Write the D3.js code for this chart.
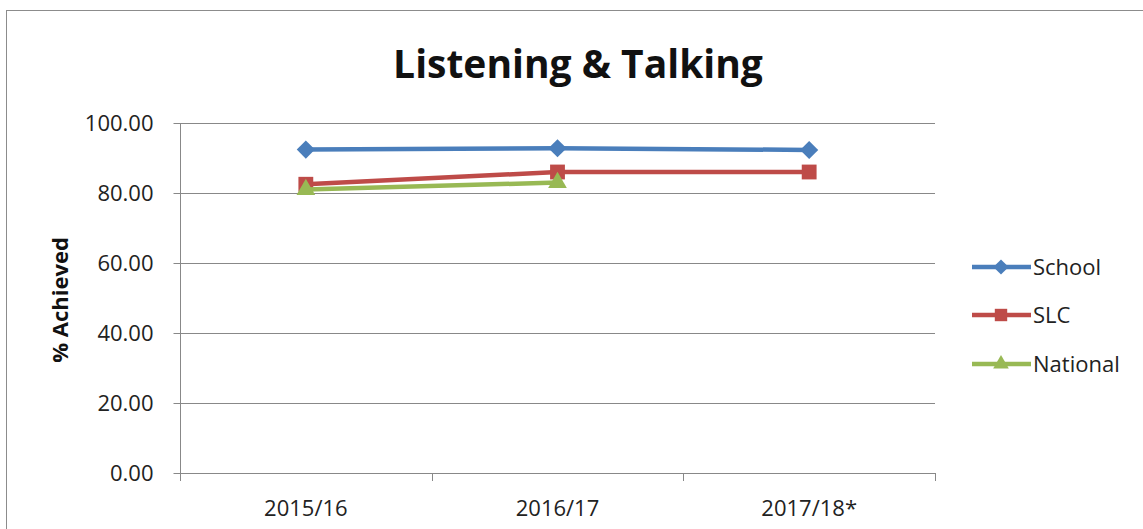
<!DOCTYPE html>
<html><head><meta charset="utf-8">
<script src="https://cdn.jsdelivr.net/npm/d3@7"></script>
<style>html,body{margin:0;padding:0;background:#fff;}svg{display:block;}</style>
</head><body>
<svg id="chart" width="1143" height="529"></svg>
<script>
const categories = ["2015/16", "2016/17", "2017/18*"];
const schoolValues = [92.4, 92.8, 92.3];
const slcValues = [82.5, 86.0, 86.0];
const nationalValues = [81.0, 83.0, null];
const yTicks = [0, 20, 40, 60, 80, 100];
const seriesNames = ["School", "SLC", "National"];

const series = [
  {name: seriesNames[0], values: schoolValues, color: "#4A7EBB", marker: d3.symbolDiamond2, size: 210},
  {name: seriesNames[1], values: slcValues, color: "#BE4B48", marker: d3.symbolSquare2, size: 280},
  {name: seriesNames[2], values: nationalValues, color: "#98B954", marker: d3.symbolTriangle2, size: 250}
];

const svg = d3.select("#chart");
const font = "'Open Sans', 'Liberation Sans', sans-serif";

// outer border
svg.append("rect").attr("x", 6.5).attr("y", 10.5).attr("width", 1150).attr("height", 540)
  .attr("fill", "none").attr("stroke", "#8c8c8c").attr("stroke-width", 1);

const x = d3.scaleBand().domain(categories).range([180, 935]);
const y = d3.scaleLinear().domain([0, 100]).range([473, 123]);

// gridlines
svg.append("g").selectAll("line").data(yTicks).join("line")
  .attr("x1", 180).attr("x2", 935)
  .attr("y1", d => Math.round(y(d)) + 0.5).attr("y2", d => Math.round(y(d)) + 0.5)
  .attr("stroke", "#888").attr("stroke-width", 1);

// y axis
const yAxis = svg.append("g").attr("transform", "translate(180.5,0)")
  .call(d3.axisLeft(y).tickValues(yTicks).tickFormat(d3.format(".2f")).tickSize(7).tickSizeOuter(0));
yAxis.select(".domain").attr("stroke", "#888").attr("d", "M0,123V480");
yAxis.selectAll(".tick line").attr("stroke", "#888");
yAxis.selectAll(".tick text").attr("font-family", font).attr("font-size", 22).attr("fill", "#222").attr("x", -27).attr("dy", "0.34em");

// x axis
const xAxis = svg.append("g").attr("transform", "translate(0,473.5)")
  .call(d3.axisBottom(x).tickSize(0).tickSizeOuter(0));
xAxis.select(".domain").remove();
xAxis.selectAll(".tick text").attr("font-family", font).attr("font-size", 22).attr("fill", "#222").attr("y", 27).attr("dy", "0.71em");
svg.append("g").selectAll("line").data(categories.map(c => x(c)).concat([x.range()[1]])).join("line")
  .attr("x1", d => Math.round(d) + 0.5).attr("x2", d => Math.round(d) + 0.5)
  .attr("y1", 473).attr("y2", 481).attr("stroke", "#888");

// y-axis label
svg.append("text").attr("transform", "translate(68,300) rotate(-90)")
  .attr("text-anchor", "middle").attr("font-family", font).attr("font-weight", "bold")
  .attr("font-size", 22).attr("fill", "#111").text("% Achieved");

// title
svg.append("text").attr("x", 578).attr("y", 78).attr("text-anchor", "middle")
  .attr("font-family", font).attr("font-weight", "bold").attr("font-size", 39).attr("fill", "#111")
  .text("Listening & Talking");

const cx = c => x(c) + x.bandwidth() / 2;
const line = d3.line().defined(d => d.v != null).x(d => cx(d.c)).y(d => y(d.v));

series.forEach(s => {
  const pts = categories.map((c, i) => ({c, v: s.values[i]}));
  svg.append("path").datum(pts).attr("d", line).attr("fill", "none")
    .attr("stroke", s.color).attr("stroke-width", 4.5);
  svg.append("g").selectAll("path").data(pts.filter(d => d.v != null)).join("path")
    .attr("transform", d => `translate(${cx(d.c)},${y(d.v)})`)
    .attr("d", d3.symbol().type(s.marker).size(s.size)).attr("fill", s.color);
});

// legend
const legendY = [267, 315, 364];
series.forEach((s, i) => {
  const g = svg.append("g").attr("transform", `translate(0,${legendY[i]})`);
  g.append("line").attr("x1", 972).attr("x2", 1031).attr("y1", 0).attr("y2", 0)
    .attr("stroke", s.color).attr("stroke-width", 4.5);
  g.append("path").attr("transform", "translate(1001,0)")
    .attr("d", d3.symbol().type(s.marker).size(s.size * 0.7)).attr("fill", s.color);
  g.append("text").attr("x", 1033).attr("y", 0).attr("dy", "0.35em")
    .attr("font-family", font).attr("font-size", 22).attr("fill", "#222").text(s.name);
});
</script>
</body></html>
